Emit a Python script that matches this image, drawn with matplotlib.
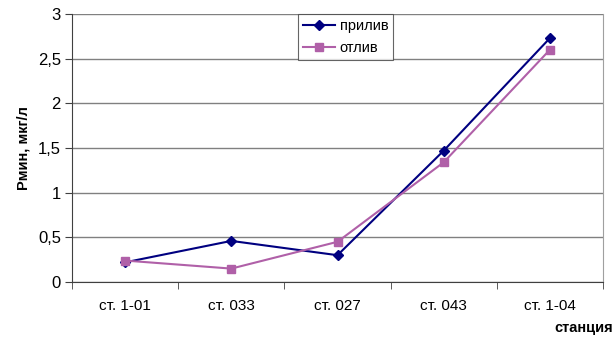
import numpy as np
import matplotlib
matplotlib.use('Agg')
import matplotlib.pyplot as plt
from matplotlib.ticker import FixedLocator, FuncFormatter

plt.rcParams['font.family'] = ['Liberation Sans', 'DejaVu Sans']

stations = ['ст. 1-01', 'ст. 033', 'ст. 027', 'ст. 043', 'ст. 1-04']
priliv   = [0.22, 0.46, 0.30, 1.47, 2.73]
otliv    = [0.24, 0.15, 0.45, 1.34, 2.60]

fig = plt.figure(figsize=(6.15, 3.42), dpi=100)
ax  = fig.add_axes([72/615, 60/342, 531/615, 268/342])

x = np.arange(len(stations))
ax.plot(x, priliv, color='#000080', marker='D', markersize=5, linewidth=1.5, label='прилив')
ax.plot(x, otliv, color='#B060A8', marker='s', markersize=5.5, linewidth=1.5, label='отлив')

ax.set_xlim(-0.5, len(stations) - 0.5)
ax.set_ylim(0, 3)
ax.set_yticks(np.arange(0, 3.01, 0.5))
ax.yaxis.set_major_formatter(FuncFormatter(lambda v, p: ('%g' % v).replace('.', ',')))
ax.set_xticks(x)
ax.set_xticklabels(stations)
ax.xaxis.set_minor_locator(FixedLocator(np.arange(-0.5, len(stations), 1.0)))
ax.tick_params(axis='x', which='major', length=0, pad=12, labelsize=11)
ax.tick_params(axis='x', which='minor', length=5, direction='out', color='#404040')
ax.tick_params(axis='y', length=5, direction='out', color='#404040', labelsize=12, pad=3)

ax.grid(axis='y', color='#808080', linewidth=1)
ax.set_axisbelow(True)
ax.spines['top'].set_visible(False)
ax.spines['right'].set_color('#a0a0a0')
ax.spines['left'].set_color('#404040')
ax.spines['bottom'].set_color('#404040')

ax.set_ylabel('Рмин, мкг/л', fontsize=10.5, fontweight='bold', labelpad=5)
fig.text(0.997, 0.02, 'станция', ha='right', va='bottom', fontsize=10.5, fontweight='bold')

leg = fig.legend(loc='upper left', bbox_to_anchor=(298/615, 1 - 14/342), frameon=True, fancybox=False,
                 edgecolor='#404040', fontsize=10.5, handlelength=2.2, handletextpad=0.3,
                 borderpad=0.35, labelspacing=0.55, borderaxespad=0)
leg.get_frame().set_linewidth(0.8)

fig.savefig('out.png', dpi=100)
